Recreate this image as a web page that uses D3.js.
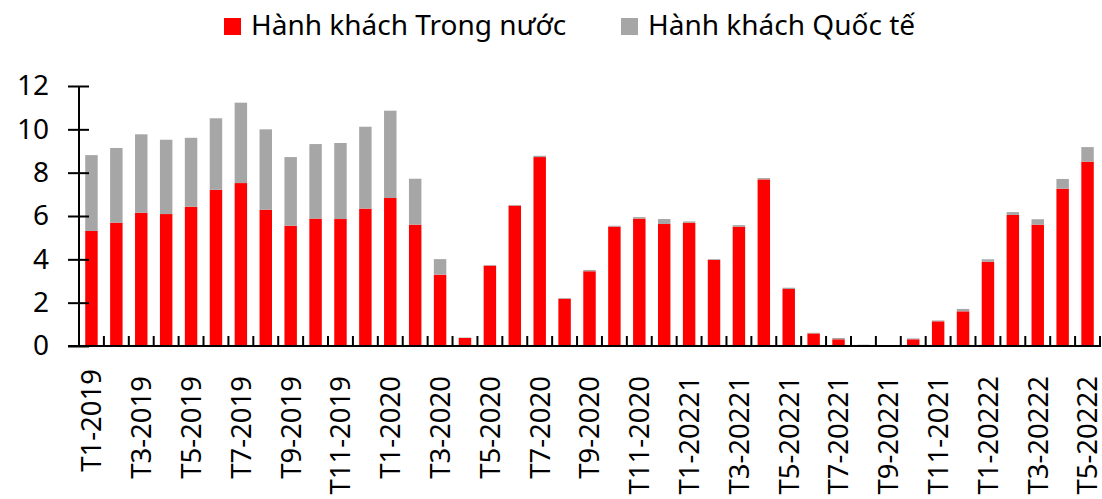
<!DOCTYPE html>
<html>
<head>
<meta charset="utf-8">
<script src="https://cdn.jsdelivr.net/npm/d3@7"></script>
<style>
  body { margin: 0; background: #fff; }
  text { font-family: "Noto Sans", "Open Sans", sans-serif; fill: #000; }
</style>
</head>
<body>
<svg id="viz" width="1102" height="499"></svg>
<script>
// Months as printed on the axis (only every other one is shown)
const months = [
  'T1-2019', 'T2-2019', 'T3-2019', 'T4-2019', 'T5-2019', 'T6-2019',
  'T7-2019', 'T8-2019', 'T9-2019', 'T10-2019', 'T11-2019', 'T12-2019',
  'T1-2020', 'T2-2020', 'T3-2020', 'T4-2020', 'T5-2020', 'T6-2020',
  'T7-2020', 'T8-2020', 'T9-2020', 'T10-2020', 'T11-2020', 'T12-2020',
  'T1-20221', 'T2-20221', 'T3-20221', 'T4-20221', 'T5-20221', 'T6-20221',
  'T7-20221', 'T8-20221', 'T9-20221', 'T10-20221', 'T11-2021', 'T12-2021',
  'T1-20222', 'T2-20222', 'T3-20222', 'T4-20222', 'T5-20222'
];

// Passengers, millions
const domestic = [
  5.31, 5.69, 6.15, 6.09, 6.43, 7.21, 7.52, 6.29, 5.55, 5.88, 5.86, 6.34,
  6.83, 5.60, 3.29, 0.37, 3.71, 6.48, 8.72, 2.18, 3.45, 5.51, 5.88, 5.63,
  5.69, 3.98, 5.51, 7.69, 2.63, 0.58, 0.31, 0.03, 0.01, 0.31, 1.14, 1.60,
  3.89, 6.05, 5.60, 7.26, 8.51
];
const international = [
  3.50, 3.45, 3.62, 3.43, 3.18, 3.30, 3.71, 3.71, 3.17, 3.44, 3.51, 3.78,
  4.03, 2.12, 0.72, 0.02, 0.03, 0.03, 0.06, 0.03, 0.06, 0.04, 0.07, 0.23,
  0.06, 0.03, 0.07, 0.06, 0.06, 0.03, 0.06, 0.03, 0.01, 0.04, 0.04, 0.11,
  0.11, 0.13, 0.25, 0.45, 0.67
];

const seriesNames = ['Hành khách Trong nước', 'Hành khách Quốc tế'];
const colors = ['#ff0000', '#a6a6a6'];
const yTicks = [0, 2, 4, 6, 8, 10, 12];

const rows = months.map((m, i) => ({ month: m, dom: domestic[i], intl: international[i] }));
const stacked = d3.stack().keys(['dom', 'intl'])(rows);

const svg = d3.select('#viz');
const plot = { left: 79, right: 1100, top: 86, bottom: 346 };

const x = d3.scaleBand()
  .domain(months)
  .range([plot.left, plot.right])
  .paddingInner(0.5)
  .paddingOuter(0.25);

const y = d3.scaleLinear()
  .domain([0, 12])
  .range([plot.bottom, plot.top]);

// Bars
svg.append('g')
  .selectAll('g')
  .data(stacked)
  .join('g')
    .attr('fill', (d, i) => colors[i])
  .selectAll('rect')
  .data(d => d)
  .join('rect')
    .attr('x', d => x(d.data.month))
    .attr('width', x.bandwidth())
    .attr('y', d => y(d[1]))
    .attr('height', d => y(d[0]) - y(d[1]));

// Y axis: ticks cross the line
const yAxis = svg.append('g')
  .attr('transform', `translate(${plot.left},0)`)
  .call(d3.axisLeft(y).tickValues(yTicks).tickSize(11));
yAxis.select('.domain').attr('d', `M0,${plot.top}V${plot.bottom}`);
yAxis.selectAll('.tick line').attr('x2', 10).attr('x1', -11);
yAxis.selectAll('path, line').attr('stroke', '#000').attr('stroke-width', 2);
yAxis.selectAll('text')
  .attr('x', -30)
  .style('font-size', '28px');

// X axis: line with inward ticks between months
const xAxis = svg.append('g');
xAxis.append('line')
  .attr('x1', plot.left - 11).attr('x2', plot.right + 1)
  .attr('y1', plot.bottom).attr('y2', plot.bottom)
  .attr('stroke', '#000').attr('stroke-width', 2);
const step = x.step();
xAxis.selectAll('line.sep')
  .data(months)
  .join('line')
    .attr('class', 'sep')
    .attr('x1', d => x(d) - x.paddingOuter() * step + step)
    .attr('x2', d => x(d) - x.paddingOuter() * step + step)
    .attr('y1', plot.bottom)
    .attr('y2', plot.bottom - 10)
    .attr('stroke', '#000').attr('stroke-width', 2);

// Month labels, every other month, rotated
xAxis.selectAll('text')
  .data(months.filter((m, i) => i % 2 === 0))
  .join('text')
    .attr('transform', (d, i) => `translate(${x(d) + x.bandwidth() / 2},${i === 0 ? 369 : 376}) rotate(-90)`)
    .attr('dy', '0.36em')
    .attr('text-anchor', 'end')
    .style('font-size', '27.5px')
    .text(d => d);

// Legend
const legendX = [224, 621];
const legend = svg.append('g')
  .selectAll('g')
  .data(seriesNames)
  .join('g')
    .attr('transform', (d, i) => `translate(${legendX[i]},18)`);
legend.append('rect')
  .attr('width', 17).attr('height', 17)
  .attr('fill', (d, i) => colors[i]);
legend.append('text')
  .attr('x', 27).attr('y', 17)
  .style('font-size', '28px')
  .text(d => d);
</script>
</body>
</html>
